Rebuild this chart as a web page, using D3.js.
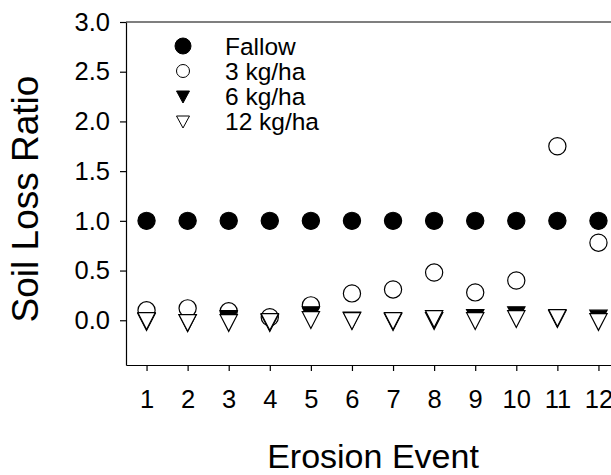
<!DOCTYPE html>
<html lang="en">
<head>
	<meta charset="utf-8">
	<title>Soil Loss Ratio</title>
	<script src="https://d3js.org/d3.v7.min.js"></script>
	<style type="text/css">
		body { margin: 0; background: white; }
		.axis path,
		.axis line {
		    fill: none;
		    stroke: black;
		    stroke-width: 1.2px;
		}
		.axis text {
		    font-family: "Liberation Sans", Arial, sans-serif;
		    font-size: 25.5px;
		    fill: black;
		}
		.title {
		    font-family: "Liberation Sans", Arial, sans-serif;
		    fill: black;
		}
		.legend text {
		    font-family: "Liberation Sans", Arial, sans-serif;
		    font-size: 24.5px;
		    fill: black;
		}
	</style>
</head>
<body>
<script type="text/javascript">

	// Data
	var events = [1, 2, 3, 4, 5, 6, 7, 8, 9, 10, 11, 12];
	var fallow = [1.0, 1.0, 1.0, 1.0, 1.0, 1.0, 1.0, 1.0, 1.0, 1.0, 1.0, 1.0];
	var kg3 = [0.10, 0.12, 0.09, 0.03, 0.15, 0.27, 0.31, 0.48, 0.28, 0.40, 1.75, 0.78];
	var kg6 = [0.01, 0.0, 0.04, 0.0, 0.08, 0.025, 0.01, 0.02, 0.05, 0.08, 0.04, 0.045];
	var kg12 = [0.02, 0.0, 0.0, 0.01, 0.03, 0.02, 0.02, 0.04, 0.02, 0.04, 0.05, 0.01];
	var yTicks = [0.0, 0.5, 1.0, 1.5, 2.0, 2.5, 3.0];
	var seriesNames = ["Fallow", "3 kg/ha", "6 kg/ha", "12 kg/ha"];

	// Width and height
	var outer_width = 611;
	var outer_height = 475;
	var margin = {top: 22, right: -8, bottom: 110, left: 126};
	var svg_width = outer_width - margin.left - margin.right;
	var svg_height = outer_height - margin.top - margin.bottom;

	var svg = d3.select("body")
				.append("svg")
				.attr("width", outer_width)
				.attr("height", outer_height)
				.append("g")
				.attr("transform", "translate(" + margin.left + "," + margin.top + ")");

	// Scales
	var xScale = d3.scaleLinear()
				.domain([0.5, 12.5])
				.range([0, svg_width]);

	var yScale = d3.scaleLinear()
				.domain([-0.45, 3.0])
				.range([svg_height, 0]);

	// Axes
	var xAxis = d3.axisBottom(xScale)
				.tickValues(events)
				.tickFormat(d3.format("d"))
				.tickSizeInner(6)
				.tickSizeOuter(0)
				.tickPadding(19);

	var yAxis = d3.axisLeft(yScale)
				.tickValues(yTicks)
				.tickFormat(d3.format(".1f"))
				.tickSizeInner(6)
				.tickSizeOuter(0)
				.tickPadding(10);

	svg.append("g")
		.attr("class", "axis")
		.attr("transform", "translate(0," + svg_height + ")")
		.call(xAxis);

	svg.append("g")
		.attr("class", "axis")
		.call(yAxis);

	// frame: top and right
	svg.append("line")
		.attr("x1", 0).attr("x2", svg_width)
		.attr("y1", 0).attr("y2", 0)
		.attr("stroke", "black").attr("stroke-width", 1.2);
	svg.append("line")
		.attr("x1", svg_width).attr("x2", svg_width)
		.attr("y1", 0).attr("y2", svg_height)
		.attr("stroke", "black").attr("stroke-width", 1.2);

	// Triangle pointing down, centred on its centroid
	function triPath(w, h) {
		return "M" + (-w / 2) + "," + (-h / 3) +
			"L" + (w / 2) + "," + (-h / 3) +
			"L0," + (2 * h / 3) + "Z";
	}

	var series = [
		{name: seriesNames[0], values: fallow, shape: "circle", fill: "black"},
		{name: seriesNames[1], values: kg3, shape: "circle", fill: "white"},
		{name: seriesNames[2], values: kg6, shape: "tri", fill: "black"},
		{name: seriesNames[3], values: kg12, shape: "tri", fill: "white"}
	];

	// Points
	series.forEach(function(s) {
		var g = svg.append("g");
		var pts = g.selectAll("path")
			.data(events)
			.enter()
			.append("path")
			.attr("transform", function(d, i) {
				return "translate(" + xScale(d) + "," + yScale(s.values[i]) + ")";
			})
			.attr("fill", s.fill)
			.attr("stroke", "black")
			.attr("stroke-width", 1.2);
		if (s.shape == "circle") {
			pts.attr("d", d3.symbol().type(d3.symbolCircle).size(Math.PI * 8.6 * 8.6));
		} else {
			pts.attr("d", triPath(17.3, 16.7));
		}
	});

	// Legend
	var legend = svg.append("g")
		.attr("class", "legend")
		.attr("transform", "translate(57,24)");

	var item = legend.selectAll("g")
		.data(series)
		.enter()
		.append("g")
		.attr("transform", function(d, i) { return "translate(0," + (i * 25) + ")"; });

	item.append("path")
		.attr("d", function(d, i) {
			if (i == 0) return d3.symbol().type(d3.symbolCircle).size(Math.PI * 8 * 8)();
			if (i == 1) return d3.symbol().type(d3.symbolCircle).size(Math.PI * 6.5 * 6.5)();
			return triPath(13, 12);
		})
		.attr("transform", function(d, i) { return i > 1 ? "translate(0,-1)" : null; })
		.attr("fill", function(d) { return d.fill; })
		.attr("stroke", "black")
		.attr("stroke-width", 1);

	item.append("text")
		.attr("x", 42)
		.attr("dy", "0.36em")
		.text(function(d) { return d.name; });

	// Axis titles
	svg.append("text")
		.attr("class", "title")
		.attr("x", 247)
		.attr("y", svg_height + 103)
		.attr("text-anchor", "middle")
		.style("font-size", "34px")
		.text("Erosion Event");

	svg.append("text")
		.attr("class", "title")
		.attr("transform", "translate(-88," + 177 + ") rotate(-90)")
		.attr("text-anchor", "middle")
		.style("font-size", "37px")
		.text("Soil Loss Ratio");

</script>
</body>
</html>
